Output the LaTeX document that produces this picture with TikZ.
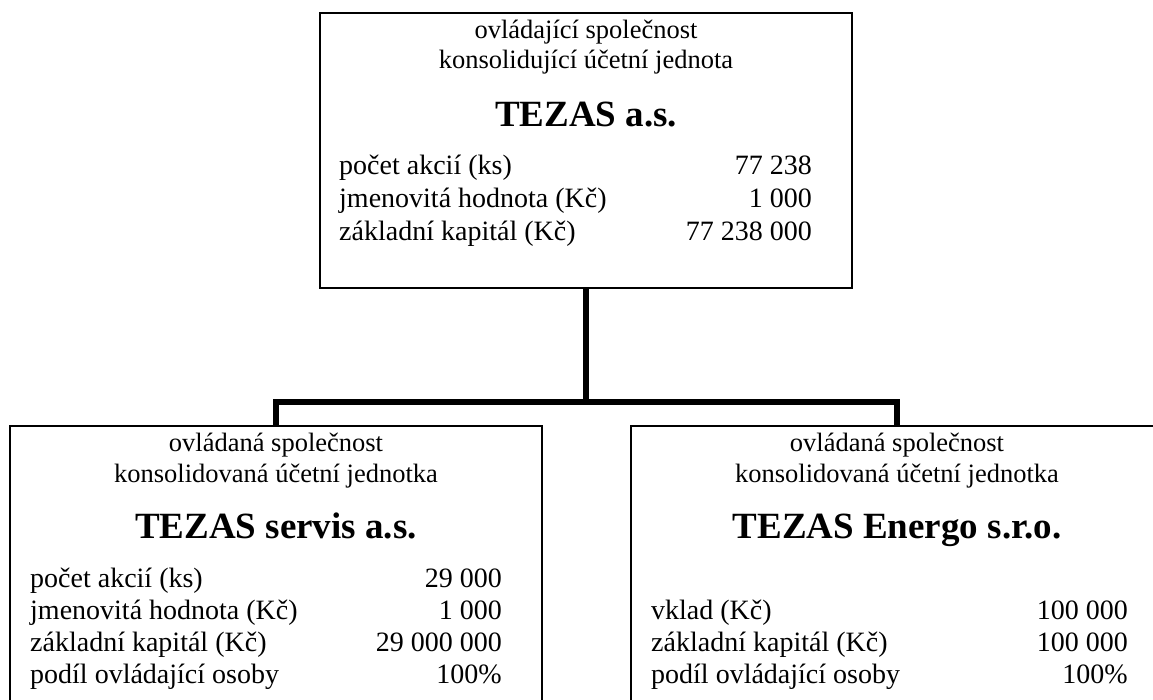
\documentclass[tikz,border=0pt]{standalone}
\usepackage{fontspec}
\setmainfont{Liberation Serif}
\begin{document}
\begin{tikzpicture}[x=1pt,y=-1pt,
  box/.style={draw, line width=2pt, inner sep=0pt},
  conn/.style={line width=6pt, line join=miter},
  hdr/.style={font=\fontsize{26.5}{31}\selectfont, anchor=base, inner sep=0pt},
  ttl/.style={font=\fontsize{37}{42}\selectfont\bfseries, anchor=base, inner sep=0pt},
  lab/.style={font=\fontsize{28}{33}\selectfont, anchor=base west, inner sep=0pt},
  val/.style={font=\fontsize{28}{33}\selectfont, anchor=base east, inner sep=0pt}]
\useasboundingbox (0,0) rectangle (1153,700);
\clip (0,0) rectangle (1153,700);
% boxes
\node[box, minimum width=532pt, minimum height=275pt] (top) at (586,150.5) {};
\node[box, minimum width=532pt, minimum height=334pt] (ls) at (276,593) {};
\node[box, minimum width=532pt, minimum height=334pt] (rs) at (897,593) {};
% connectors
\coordinate (bar) at (586,402);
\draw[conn] (top.south) -- (bar);
\draw[conn] (ls.north) -- (ls.north |- bar) -- (rs.north |- bar) -- (rs.north);
% top box text
\node[hdr] (t1) at (586,38.5) {ovládající společnost};
\node[hdr] (t2) at (586,69) {konsolidující účetní jednota};
\node[ttl] (tt) at (586,127) {TEZAS a.s.};
\node[lab] (ta1) at (339,175) {počet akcií (ks)};
\node[val] (tv1) at (812,175) {77 238};
\node[lab] (ta2) at (339,207.5) {jmenovitá hodnota (Kč)};
\node[val] (tv2) at (812,207.5) {1 000};
\node[lab] (ta3) at (339,240.5) {základní kapitál (Kč)};
\node[val] (tv3) at (812,240.5) {77 238 000};
% left box text
\node[hdr] (l1) at (276,451.5) {ovládaná společnost};
\node[hdr] (l2) at (276,482) {konsolidovaná účetní jednotka};
\node[ttl] (lt) at (276,538.5) {TEZAS servis a.s.};
\node[lab] (la1) at (30,587) {počet akcií (ks)};
\node[val] (lv1) at (502,587) {29 000};
\node[lab] (la2) at (30,619) {jmenovitá hodnota (Kč)};
\node[val] (lv2) at (502,619) {1 000};
\node[lab] (la3) at (30,651) {základní kapitál (Kč)};
\node[val] (lv3) at (502,651) {29 000 000};
\node[lab] (la4) at (30,683.5) {podíl ovládající osoby};
\node[val] (lv4) at (502,683.5) {100\%};
% right box text
\node[hdr] (r1) at (897,451.5) {ovládaná společnost};
\node[hdr] (r2) at (897,482) {konsolidovaná účetní jednotka};
\node[ttl] (rt) at (897,538.5) {TEZAS Energo s.r.o.};
\node[lab] (ra1) at (651,619.5) {vklad (Kč)};
\node[val] (rv1) at (1128,619.5) {100 000};
\node[lab] (ra2) at (651,651.5) {základní kapitál (Kč)};
\node[val] (rv2) at (1128,651.5) {100 000};
\node[lab] (ra3) at (651,683.5) {podíl ovládající osoby};
\node[val] (rv3) at (1128,683.5) {100\%};
\end{tikzpicture}
\end{document}
